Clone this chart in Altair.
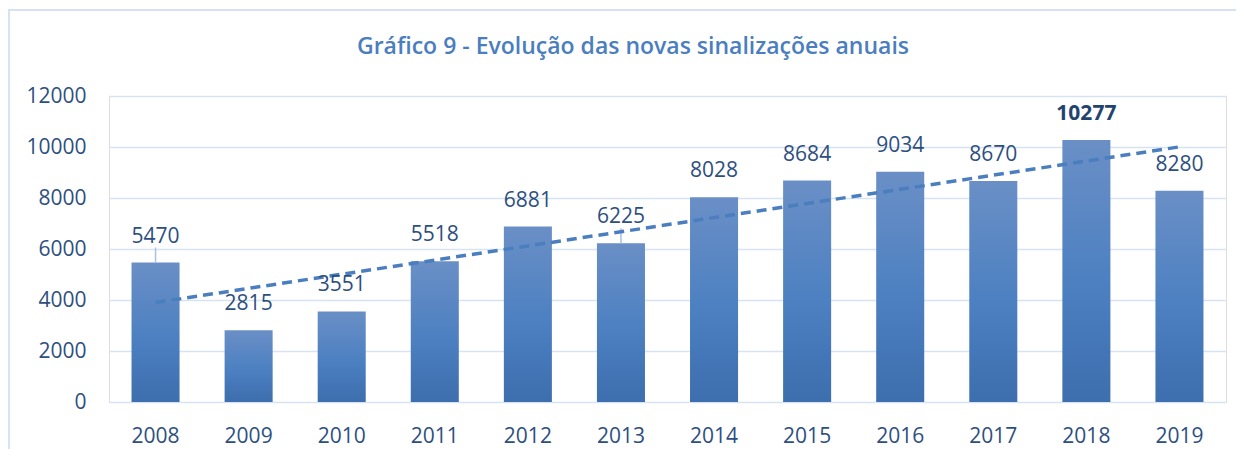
import altair as alt
import pandas as pd
import numpy as np

years = ["2008", "2009", "2010", "2011", "2012", "2013",
         "2014", "2015", "2016", "2017", "2018", "2019"]
values = [5470, 2815, 3551, 5518, 6881, 6225, 8028, 8684, 9034, 8670, 10277, 8280]
y_ticks = [0, 2000, 4000, 6000, 8000, 10000, 12000]
highlight_year = "2018"
leader_years = ["2008", "2013"]
title_text = "Gráfico 9 - Evolução das novas sinalizações anuais"

idx = np.arange(len(values))
slope, intercept = np.polyfit(idx, values, 1)
trend = intercept + slope * idx

df = pd.DataFrame({
    "year": years,
    "value": values,
    "trend": trend,
    "bold": [y == highlight_year for y in years],
    "leader": [y in leader_years for y in years],
})

FONT = "Open Sans"
TXT = "#2d4f7f"
FS = 21

x = alt.X("year:O",
          scale=alt.Scale(paddingInner=0.484, paddingOuter=0.242),
          axis=alt.Axis(title=None, labelAngle=0, labelPadding=23, labelFontSize=FS,
                        labelColor=TXT, labelFont=FONT, ticks=False, domain=False))
y = alt.Y("value:Q",
          scale=alt.Scale(domain=[0, 12000]),
          axis=alt.Axis(title=None, values=y_ticks, format="d", labelPadding=23,
                        labelFontSize=FS, labelColor=TXT, labelFont=FONT,
                        ticks=False, domain=False, gridColor="#d6e3f3", gridWidth=1.6))

base = alt.Chart(df)

gradient = alt.Gradient(
    gradient="linear",
    stops=[alt.GradientStop(color="#6a8fc6", offset=0),
           alt.GradientStop(color="#4c80c1", offset=0.55),
           alt.GradientStop(color="#3d6eae", offset=1)],
    x1=0, x2=0, y1=0, y2=1)

bars = base.mark_bar(color=gradient).encode(x=x, y=y)

trend_line = base.mark_line(color="#4a7ebf", strokeWidth=3.5, strokeDash=[10, 6]).encode(
    x="year:O", y="trend:Q")

leaders = base.transform_filter("datum.leader").mark_rule(
    color="#a9c2e2", strokeWidth=1.5, y2Offset=-15).encode(
    x="year:O", y="value:Q", y2="value:Q")

labels = base.transform_filter("!datum.bold").mark_text(
    dy=-20, baseline="alphabetic", fontSize=FS, font=FONT, color=TXT).encode(
    x="year:O", y="value:Q", text="value:Q")

labels_bold = base.transform_filter("datum.bold").mark_text(
    dy=-20, baseline="alphabetic", fontSize=FS, font=FONT, color="#23436f",
    fontWeight="bold").encode(x="year:O", y="value:Q", text="value:Q")

frame = alt.Chart(pd.DataFrame({"k": [0]})).mark_rect(
    fill=None, stroke="#d5e3f3", strokeWidth=2, clip=False).encode(
    x=alt.value(-100), x2=alt.value(1300), y=alt.value(-86), y2=alt.value(500))

title = alt.Chart(pd.DataFrame({"t": [title_text]})).mark_text(
    fontSize=23, fontWeight=600, color="#4a7ebf", font=FONT, align="center",
    baseline="alphabetic").encode(
    text="t:N", x=alt.value(524), y=alt.value(-42))

chart = alt.layer(frame, bars, leaders, trend_line, labels, labels_bold, title).properties(
    width=1117, height=306,
    autosize=alt.AutoSizeParams(type="none"),
    padding={"left": 101, "top": 88, "right": 10, "bottom": 47},
).configure_view(stroke=None).configure(background="white")

chart.save("out.html", embed_options={"renderer": "svg", "actions": False})
